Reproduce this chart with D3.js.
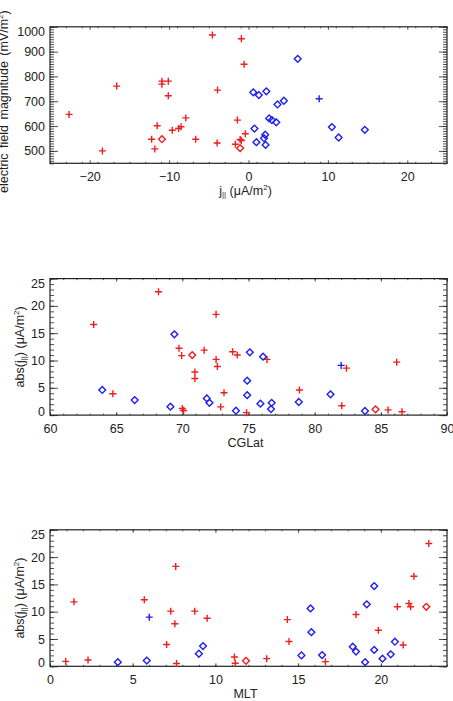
<!DOCTYPE html>
<html>
<head>
<meta charset="utf-8">
<script src="https://cdn.jsdelivr.net/npm/d3@7"></script>
<style>
body { margin: 0; background: #fff; }
svg { display: block; }
text { font-family: "Liberation Sans", Arial, sans-serif; fill: #222; }
</style>
</head>
<body>
<svg id="chart" width="453" height="701"></svg>
<script>
// panel 1 : j|| vs electric field magnitude
var jRedPlus = [-22.6, -18.4, -16.6, -12.2, -11.8, -11.5, -10.9, -10.9, -10.1, -10.1, -9.6, -8.8, -8.5, -7.9, -6.65, -4.55, -3.9, -3.95, -1.4, -1.65, -1.05, -0.9, -0.9, -0.55, -0.4];
var eRedPlus = [647, 500, 761, 547, 508, 601, 781, 769, 781, 722, 583, 590, 597, 633, 547, 967, 745, 532, 624, 527, 546, 542, 952, 849, 569];
var jRedDia = [-10.9, -1.05];
var eRedDia = [547, 511];
var jBluePlus = [8.9];
var eBluePlus = [710];
var jBlueDia = [0.6, 1.3, 2.25, 0.75, 1.0, 1.95, 2.1, 2.15, 2.6, 2.95, 3.5, 3.65, 4.45, 6.2, 10.5, 11.35, 14.65];
var eBlueDia = [736, 725, 740, 590, 535, 551, 565, 524, 631, 624, 615, 687, 702, 871, 596, 554, 585];

// panel 2 : CGLat vs abs(j||)
var latRedPlus = [63.3, 68.2, 64.75, 69.75, 69.95, 70.0, 70.1, 70.95, 70.95, 71.65, 72.55, 72.55, 72.65, 72.9, 73.15, 73.8, 74.15, 74.85, 76.4, 78.85, 82.05, 82.4, 85.55, 86.2, 86.6];
var absLatRedPlus = [16.6, 22.6, 3.9, 12.25, 10.9, 1.2, 0.85, 7.9, 6.7, 11.9, 18.45, 10.2, 8.9, 1.5, 4.1, 11.6, 11.0, 0.45, 10.2, 4.6, 1.7, 8.6, 0.95, 9.7, 0.6];
var latRedDia = [70.75, 84.6];
var absLatRedDia = [11.0, 1.05];
var latBluePlus = [82.0];
var absLatBluePlus = [9.1];
var latBlueDia = [63.95, 66.4, 69.1, 69.4, 71.85, 72.05, 74.05, 74.9, 74.9, 75.1, 75.9, 76.1, 76.7, 76.75, 78.8, 81.2, 83.8];
var absLatBlueDia = [4.6, 2.75, 1.55, 14.8, 3.05, 2.25, 0.8, 6.3, 3.65, 11.5, 2.1, 10.7, 1.1, 2.25, 2.4, 3.8, 0.75];

// panel 3 : MLT vs abs(j||)
var mltRedPlus = [0.95, 1.45, 2.3, 5.7, 7.05, 7.3, 7.6, 7.55, 7.65, 8.75, 9.5, 11.15, 11.2, 13.1, 14.35, 14.45, 16.65, 18.5, 19.85, 21.0, 21.35, 21.7, 21.8, 22.0, 22.9];
var absMltRedPlus = [0.9, 11.8, 1.15, 12.2, 4.0, 10.1, 18.3, 7.8, 0.5, 10.1, 8.8, 1.7, 0.55, 1.4, 8.55, 4.55, 0.85, 9.5, 6.6, 10.9, 3.9, 11.5, 10.9, 16.5, 22.5];
var mltRedDia = [11.85, 22.75];
var absMltRedDia = [1.0, 10.9];
var mltBluePlus = [6.0];
var absMltBluePlus = [9.0];
var mltBlueDia = [4.1, 5.85, 9.0, 9.25, 15.2, 15.75, 15.8, 16.45, 18.3, 18.5, 19.05, 19.15, 19.6, 19.6, 20.1, 20.6, 20.85];
var absMltBlueDia = [0.75, 1.05, 2.3, 3.7, 2.0, 10.6, 6.25, 2.05, 3.6, 2.7, 0.75, 11.35, 14.7, 3.0, 1.4, 2.2, 4.5];

// tick values
var jTicks = [-20, -10, 0, 10, 20];
var eTicks = [500, 600, 700, 800, 900, 1000];
var latTicks = [60, 65, 70, 75, 80, 85, 90];
var mltTicks = [0, 5, 10, 15, 20];
var absTicks = [0, 5, 10, 15, 20, 25];

var RED = "#f01e1e", BLUE = "#1e1ef0";
var svg = d3.select("#chart");
var left = 50, right = 447, plotH = 136.5;

function zip(xs, ys) {
    return xs.map(function(x, i) { return [x, ys[i]]; });
}

// j|| 라벨 (아래첨자 || , 위첨자 2)
function jparText(sel, prefix) {
    sel.append("tspan").text(prefix + "j");
    sel.append("tspan").attr("font-size", "8px").attr("dy", 2).text("||");
    sel.append("tspan").attr("dy", -2).text(prefix ? ")  (\u03bcA/m" : "  (\u03bcA/m");
    sel.append("tspan").attr("font-size", "8px").attr("dy", -5).text("2");
    sel.append("tspan").attr("dy", 5).text(")");
}

function drawPanel(p) {
    var top = p.top, bottom = top + plotH;
    var x = d3.scaleLinear().domain(p.xDomain).range([left, right]);
    var y = d3.scaleLinear().domain(p.yDomain).range([bottom, top]);
    var g = svg.append("g");

    // ticks on all four sides, pointing inward
    var xMinor = d3.range(p.xDomain[0], p.xDomain[1] + 1e-9, p.xMinorStep);
    var yMinor = d3.range(p.yDomain[0], p.yDomain[1] + 1e-9, p.yMinorStep);
    var xl = 3, yl = 8;

    function addAxis(axis, tr, cls) {
        var a = g.append("g").attr("class", cls).attr("transform", tr).call(axis);
        a.select(".domain").remove();
        a.selectAll("line").attr("stroke", "#222").attr("stroke-width", 0.8);
        return a;
    }
    addAxis(d3.axisBottom(x).tickValues(xMinor).tickSize(-xl / 2).tickFormat(""), "translate(0," + bottom + ")", "minor");
    addAxis(d3.axisTop(x).tickValues(xMinor).tickSize(-xl / 2).tickFormat(""), "translate(0," + top + ")", "minor");
    addAxis(d3.axisLeft(y).tickValues(yMinor).tickSize(-yl / 2).tickFormat(""), "translate(" + left + ",0)", "minor");
    addAxis(d3.axisRight(y).tickValues(yMinor).tickSize(-yl / 2).tickFormat(""), "translate(" + right + ",0)", "minor");
    addAxis(d3.axisTop(x).tickValues(p.xTicks).tickSize(-xl).tickFormat(""), "translate(0," + top + ")", "major");
    addAxis(d3.axisRight(y).tickValues(p.yTicks).tickSize(-yl).tickFormat(""), "translate(" + right + ",0)", "major");

    var bx = addAxis(d3.axisBottom(x).tickValues(p.xTicks).tickSize(-xl).tickPadding(9).tickFormat(d3.format("d")),
        "translate(0," + bottom + ")", "major");
    bx.selectAll("text").style("font-size", "12.5px").attr("fill", "#222");

    var ly = addAxis(d3.axisLeft(y).tickValues(p.yTicks).tickSize(-yl).tickPadding(5).tickFormat(d3.format("d")),
        "translate(" + left + ",0)", "major");
    ly.selectAll("text").style("font-size", "12.5px").attr("fill", "#222")
        .attr("transform", function(d) {
            // end labels kept inside the frame
            if (d === p.yDomain[1]) return "translate(0,4.5)";
            if (d === p.yDomain[0]) return "translate(0,-4)";
            return null;
        });

    // frame
    g.append("rect").attr("x", left).attr("y", top)
        .attr("width", right - left).attr("height", plotH)
        .attr("fill", "none").attr("stroke", "#222").attr("stroke-width", 1.2);

    var plusPath = "M-3.5,0H3.5M0,-3.5V3.5";
    var diaPath = "M0,-3.4L3.4,0L0,3.4L-3.4,0Z";
    var groups = [
        { pts: p.redPlus, path: plusPath, color: RED },
        { pts: p.redDia, path: diaPath, color: RED },
        { pts: p.bluePlus, path: plusPath, color: BLUE },
        { pts: p.blueDia, path: diaPath, color: BLUE }
    ];
    groups.forEach(function(gr) {
        g.append("g").selectAll("path")
            .data(gr.pts)
            .enter().append("path")
            .attr("d", gr.path)
            .attr("transform", function(d) { return "translate(" + x(d[0]) + "," + y(d[1]) + ")"; })
            .attr("fill", "none")
            .attr("stroke", gr.color)
            .attr("stroke-width", 1.4);
    });

    // x title
    var xt = g.append("text")
        .attr("x", (left + right) / 2 - 3).attr("y", bottom + 32)
        .attr("text-anchor", "middle").style("font-size", "12.5px");
    p.xTitle(xt);

    // y title
    var yPos = p.yTitleY !== undefined ? p.yTitleY : top + plotH / 2;
    var yt = g.append("text")
        .attr("transform", "translate(" + p.yTitleX + "," + yPos + ") rotate(-90)")
        .attr("text-anchor", p.yTitleAnchor || "middle").style("font-size", "12.5px");
    p.yTitle(yt);
}

drawPanel({
    top: 26.8, xDomain: [-25, 25], yDomain: [450, 1000],
    xTicks: jTicks, yTicks: eTicks, xMinorStep: 2, yMinorStep: 10,
    redPlus: zip(jRedPlus, eRedPlus), redDia: zip(jRedDia, eRedDia),
    bluePlus: zip(jBluePlus, eBluePlus), blueDia: zip(jBlueDia, eBlueDia),
    xTitle: function(t) { jparText(t, ""); },
    yTitleX: 8, yTitleY: 193, yTitleAnchor: "start",
    yTitle: function(t) {
        t.attr("word-spacing", "2px");
        t.append("tspan").text("electric field magnitude (mV/m");
        t.append("tspan").attr("font-size", "8px").attr("dy", -5).text("2");
        t.append("tspan").attr("dy", 5).text(")");
    }
});

drawPanel({
    top: 278.6, xDomain: [60, 90], yDomain: [0, 25],
    xTicks: latTicks, yTicks: absTicks, xMinorStep: 1, yMinorStep: 1,
    redPlus: zip(latRedPlus, absLatRedPlus), redDia: zip(latRedDia, absLatRedDia),
    bluePlus: zip(latBluePlus, absLatBluePlus), blueDia: zip(latBlueDia, absLatBlueDia),
    xTitle: function(t) { t.text("CGLat"); },
    yTitleX: 24,
    yTitle: function(t) { jparText(t, "abs("); }
});

drawPanel({
    top: 529.8, xDomain: [0, 24], yDomain: [0, 25],
    xTicks: mltTicks, yTicks: absTicks, xMinorStep: 1, yMinorStep: 1,
    redPlus: zip(mltRedPlus, absMltRedPlus), redDia: zip(mltRedDia, absMltRedDia),
    bluePlus: zip(mltBluePlus, absMltBluePlus), blueDia: zip(mltBlueDia, absMltBlueDia),
    xTitle: function(t) { t.text("MLT"); },
    yTitleX: 24,
    yTitle: function(t) { jparText(t, "abs("); }
});
</script>
</body>
</html>
